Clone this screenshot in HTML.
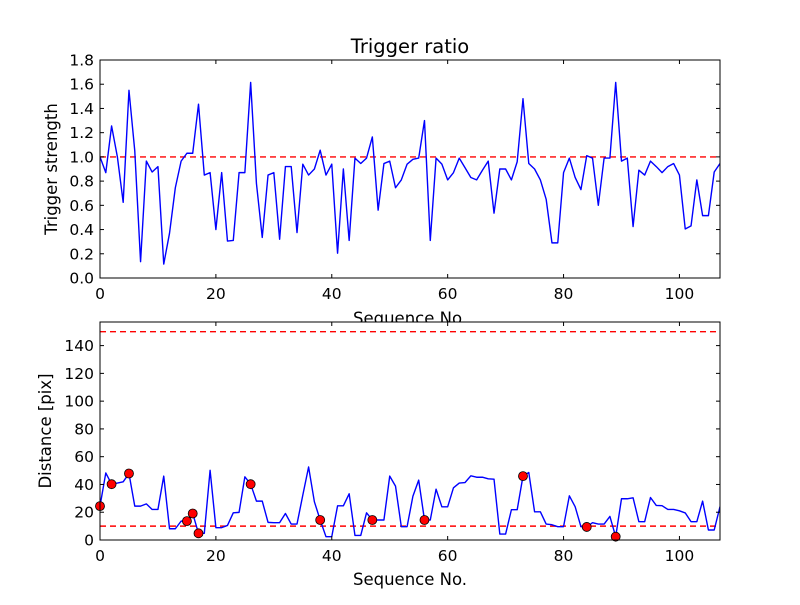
<!DOCTYPE html>
<html><head><meta charset="utf-8">
<style>
body{margin:0;background:#fff;}
svg text{font-family:"DejaVu Sans","Liberation Sans",sans-serif;fill:#000;}
</style></head>
<body>
<svg id="chart" width="800" height="600" viewBox="0 0 800 600" xmlns="http://www.w3.org/2000/svg">
<rect width="800" height="600" fill="#fff"/>
</svg>
<script>
const strength = [1.0,0.87,1.255,1.0,0.625,1.55,1.05,0.135,0.965,0.875,0.92,0.115,0.37,0.745,0.965,1.03,1.03,1.435,0.85,0.87,0.40,0.87,0.305,0.31,0.87,0.87,1.615,0.78,0.335,0.85,0.87,0.32,0.92,0.92,0.375,0.94,0.85,0.90,1.055,0.85,0.94,0.205,0.90,0.31,0.99,0.945,0.99,1.165,0.56,0.945,0.965,0.745,0.81,0.94,0.98,0.99,1.30,0.31,0.99,0.94,0.81,0.87,0.99,0.91,0.83,0.81,0.89,0.965,0.535,0.90,0.90,0.81,0.96,1.48,0.945,0.90,0.81,0.65,0.29,0.29,0.87,0.99,0.83,0.73,1.01,0.99,0.60,0.99,0.99,1.615,0.965,0.99,0.425,0.89,0.85,0.965,0.92,0.87,0.92,0.945,0.85,0.405,0.43,0.81,0.515,0.515,0.875,0.945];
const distance = [24.4,48.3,40.2,41,41.9,47.9,24.4,24.4,26,22,22,46,8.1,8.1,13.6,13.6,19.1,4.8,4.8,50.2,8.9,8.9,10.5,19.6,19.9,45.5,40.2,28,28,12.7,12.5,12.5,19.1,11.5,11.5,32.3,52.6,27.5,14.4,2.4,2.4,24.6,24.6,33.3,3.3,3.3,19.6,14.4,14.4,14.4,46,38.8,9.6,9.6,31.5,43.1,14.4,14.4,36.6,23.9,23.9,37.6,41,41.4,46.2,45.2,45.2,44.1,43.8,4.3,4.3,21.8,21.8,46,48.6,20.3,20.3,11.5,11,9.6,9.6,31.8,24,9.6,9.4,12.5,11.5,11.5,17,2.4,29.7,29.7,30.4,13.2,13.2,30.6,24.9,24.7,22,22,21,19.5,13.2,13.2,28,7.2,7.2,24];
const markerIdx = [0,2,5,15,16,17,26,38,47,56,73,84,89];
const xTicks = [0,20,40,60,80,100];
const yTicksTop = [0.0,0.2,0.4,0.6,0.8,1.0,1.2,1.4,1.6,1.8];
const yTicksBot = [0,20,40,60,80,100,120,140];
const topThreshold = [1.0];
const botThresholds = [10,150];

const NS="http://www.w3.org/2000/svg";
const svg=document.getElementById('chart');
function el(tag,attrs,parent){const e=document.createElementNS(NS,tag);for(const k in attrs)e.setAttribute(k,attrs[k]);(parent||svg).appendChild(e);return e;}
const L=100,R=720;
const xMax=107;
function sx(v){return L+(v/xMax)*(R-L);}
function makeY(top,bot,max){return v=>bot-(v/max)*(bot-top);}
const yT=makeY(60,278,1.8);
const yB=makeY(322,540,157);

function axes(name,top,bot){
  const g=el('g',{});  
  const bg=el('rect',{x:L,y:top,width:R-L,height:bot-top,fill:'#fff'},g);
   
  return g;
}
function frame(g,name,top,bot,yf,yTicks,fmt){
  const f=el('rect',{x:L,y:top,width:R-L,height:bot-top,fill:'none',stroke:'#000','stroke-width':1},g);
   
  xTicks.forEach(t=>{
    const x=sx(t);
    el('line',{x1:x,y1:bot,x2:x,y2:bot-4,stroke:'#000'},g);
    el('line',{x1:x,y1:top,x2:x,y2:top+4,stroke:'#000'},g);
    const tx=el('text',{x:x,y:bot+21,'text-anchor':'middle','font-size':15.5},g);
    tx.textContent=t;
     
  });
  yTicks.forEach(t=>{
    const y=yf(t);
    el('line',{x1:L,y1:y,x2:L+4,y2:y,stroke:'#000'},g);
    el('line',{x1:R,y1:y,x2:R-4,y2:y,stroke:'#000'},g);
    const tx=el('text',{x:L-6,y:y+5.5,'text-anchor':'end','font-size':15.5},g);
    tx.textContent=fmt(t);
     
  });
}
function line(g,name,data,yf,color){
  const p=el('polyline',{points:data.map((v,i)=>sx(i)+','+yf(v)).join(' '),fill:'none',stroke:color,'stroke-width':1.4,'stroke-linejoin':'round'},g);
   
}
function hline(g,name,v,yf){
  const l=el('line',{x1:L,x2:R,y1:yf(v),y2:yf(v),stroke:'#ff0000','stroke-width':1.4,'stroke-dasharray':'6,4'},g);
   
}

const defs=el('defs',{});
const cp1=el('clipPath',{id:'c1'},defs); el('rect',{x:L,y:60,width:R-L,height:218},cp1);
const cp2=el('clipPath',{id:'c2'},defs); el('rect',{x:L,y:322,width:R-L,height:218},cp2);

// top
const gT=axes('top-axes',60,278);
const gTd=el('g',{'clip-path':'url(#c1)'},gT);
topThreshold.forEach(v=>hline(gTd,'threshold-line',v,yT));
line(gTd,'strength-line',strength,yT,'#0000ff');
frame(gT,'top-axes',60,278,yT,yTicksTop,t=>t.toFixed(1));
const title=el('text',{x:410,y:53,'text-anchor':'middle','font-size':19.5});
title.textContent='Trigger ratio';  
const xl1=el('text',{x:410,y:324,'text-anchor':'middle','font-size':16.5});
xl1.textContent='Sequence No.';  
const yl1=el('text',{x:0,y:0,'text-anchor':'middle','font-size':16.5,transform:'translate(57,169) rotate(-90)'});
yl1.textContent='Trigger strength';  

// bottom
const gB=axes('bottom-axes',322,540);
const gBd=el('g',{'clip-path':'url(#c2)'},gB);
botThresholds.forEach(v=>hline(gBd,'distance-threshold-line',v,yB));
line(gBd,'distance-line',distance,yB,'#0000ff');
markerIdx.forEach(i=>{
  const c=el('circle',{cx:sx(i),cy:yB(distance[i]),r:4.5,fill:'#ff0000',stroke:'#000','stroke-width':0.8},gB);
   
});
frame(gB,'bottom-axes',322,540,yB,yTicksBot,t=>String(t));
const xl2=el('text',{x:410,y:585,'text-anchor':'middle','font-size':16.5});
xl2.textContent='Sequence No.';  
const yl2=el('text',{x:0,y:0,'text-anchor':'middle','font-size':16.5,transform:'translate(51,431) rotate(-90)'});
yl2.textContent='Distance [pix]';  
</script>
</body></html>
